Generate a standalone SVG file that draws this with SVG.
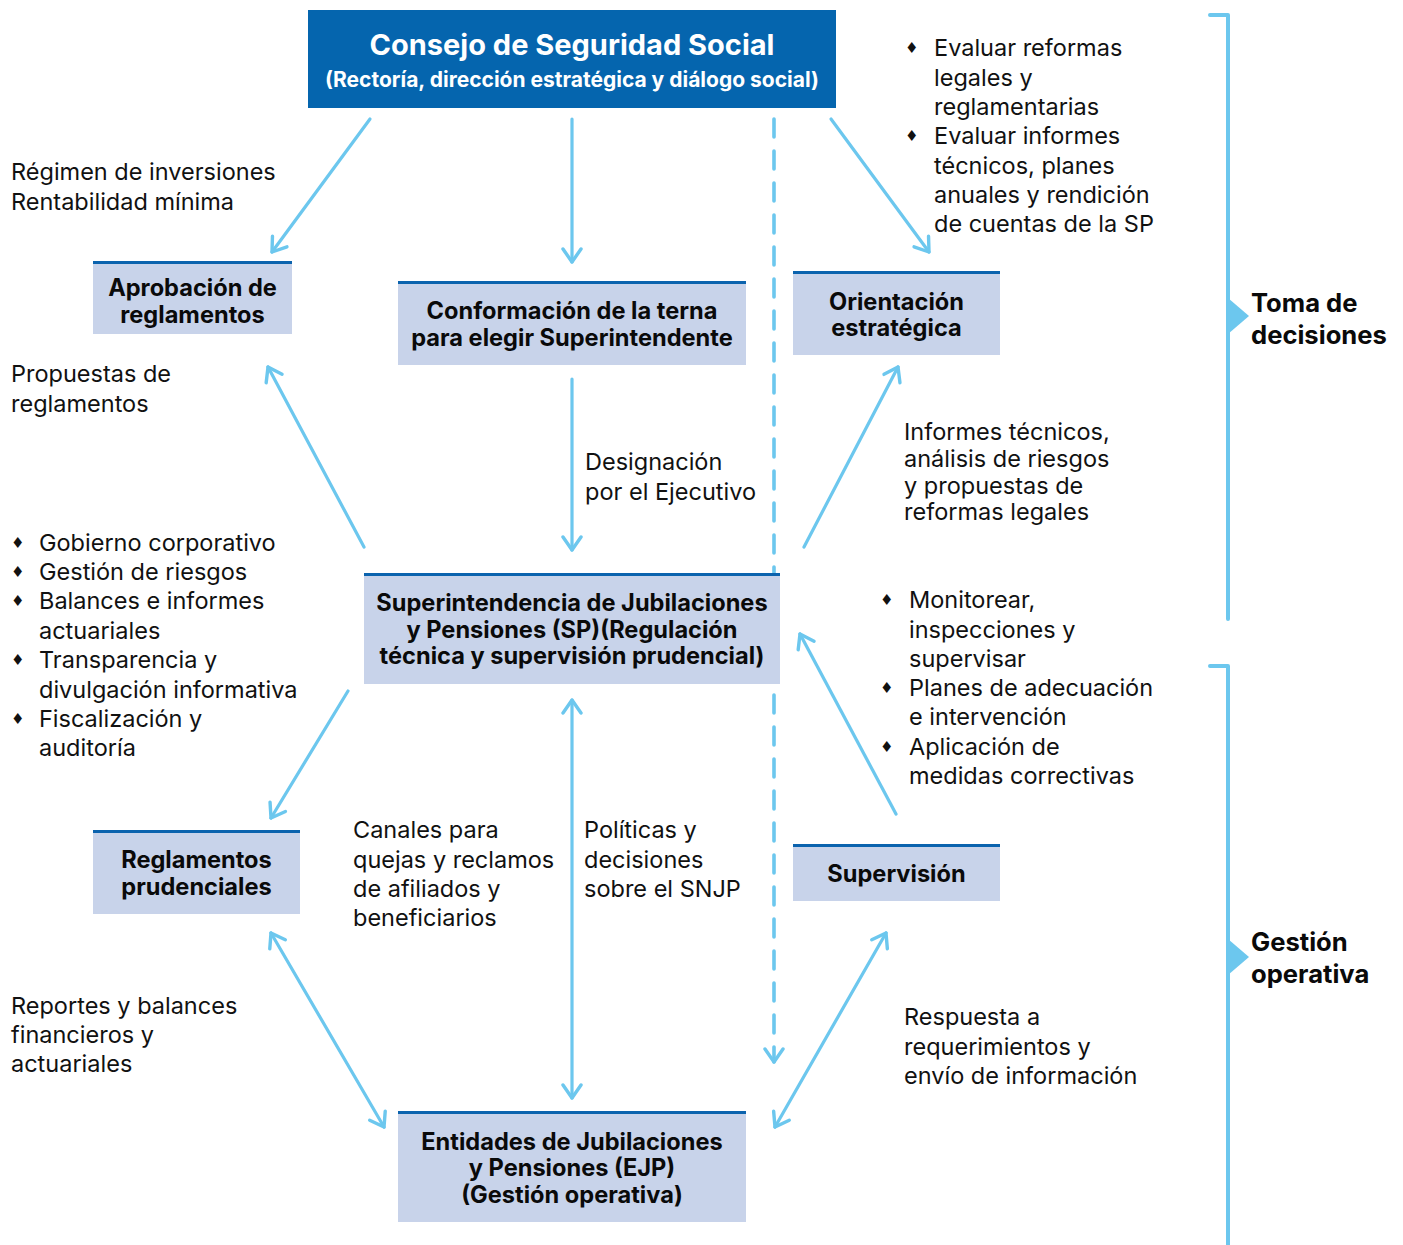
<svg xmlns="http://www.w3.org/2000/svg" width="1403" height="1245" viewBox="0 0 1403 1245">
  <defs>
    <style>
      .box { fill: #C8D3EA; }
      .topline { stroke: #0B63AE; stroke-width: 3; }
      .head { fill: #0565AE; }
      .bt { font-family: Inter, "Liberation Sans", sans-serif; font-weight: 700; font-size: 23.6px; fill: #0a0a0a; text-anchor: middle; }
      .wt { font-family: Inter, "Liberation Sans", sans-serif; font-weight: 700; fill: #ffffff; text-anchor: middle; }
      .t { font-family: Inter, "Liberation Sans", sans-serif; font-size: 23.5px; fill: #111111; }
      .bul { font-family: "DejaVu Sans", sans-serif; font-size: 15px; fill: #111111; }
      .lb { font-family: Inter, "Liberation Sans", sans-serif; font-weight: 700; font-size: 25.6px; fill: #0a0a0a; }
      .c { stroke: #6CC7EE; stroke-width: 3.2; fill: none; stroke-linecap: round; }
      .dash { stroke-dasharray: 18 14; stroke-width: 3.6; }
      .br { stroke: #6CC7EE; stroke-width: 4; fill: none; stroke-linecap: round; stroke-linejoin: round; }
    </style>
    <marker id="ah" viewBox="0 0 22 22" refX="18" refY="11" markerWidth="22" markerHeight="22" markerUnits="userSpaceOnUse" orient="auto-start-reverse">
      <polyline points="5,2 18,11 5,20" fill="none" stroke="#6CC7EE" stroke-width="3.4" stroke-linecap="round" stroke-linejoin="round"/>
    </marker>
  </defs>

  <rect width="1403" height="1245" fill="#ffffff"/>

  <!-- connectors -->
  <g id="connectors">
    <line class="c" x1="370" y1="119" x2="272" y2="252" marker-end="url(#ah)"/>
    <line class="c" x1="572" y1="119" x2="572" y2="262" marker-end="url(#ah)"/>
    <line class="c dash" x1="774" y1="119" x2="774" y2="1062" marker-end="url(#ah)"/>
    <line class="c" x1="831" y1="119" x2="929" y2="252" marker-end="url(#ah)"/>
    <line class="c" x1="572" y1="379" x2="572" y2="550" marker-end="url(#ah)"/>
    <line class="c" x1="364" y1="547" x2="268" y2="367" marker-end="url(#ah)"/>
    <line class="c" x1="804" y1="547" x2="898" y2="367" marker-end="url(#ah)"/>
    <line class="c" x1="348" y1="691" x2="271" y2="818" marker-end="url(#ah)"/>
    <line class="c" x1="896" y1="814" x2="800" y2="634" marker-end="url(#ah)"/>
    <line class="c" x1="572" y1="700" x2="572" y2="1098" marker-start="url(#ah)" marker-end="url(#ah)"/>
    <line class="c" x1="271" y1="933" x2="384" y2="1127" marker-start="url(#ah)" marker-end="url(#ah)"/>
    <line class="c" x1="886" y1="933" x2="775" y2="1127" marker-start="url(#ah)" marker-end="url(#ah)"/>
  </g>

  <!-- nodes -->
  <g id="consejo">
    <rect class="head" x="308" y="10" width="528" height="98"/>
    <text class="wt" x="572" y="55" font-size="29">Consejo de Seguridad Social</text>
    <text class="wt" x="572" y="87" font-size="21">(Rectoría, dirección estratégica y diálogo social)</text>
  </g>

  <g id="aprobacion">
    <rect class="box" x="93" y="261" width="199" height="73"/>
    <line class="topline" x1="93" y1="262.5" x2="292" y2="262.5"/>
    <text class="bt" x="192.5" y="296">Aprobación de</text>
    <text class="bt" x="192.5" y="323">reglamentos</text>
  </g>

  <g id="terna">
    <rect class="box" x="398" y="281" width="348" height="84"/>
    <line class="topline" x1="398" y1="282.5" x2="746" y2="282.5"/>
    <text class="bt" x="572" y="319">Conformación de la terna</text>
    <text class="bt" x="572" y="346">para elegir Superintendente</text>
  </g>

  <g id="orientacion">
    <rect class="box" x="793" y="271" width="207" height="84"/>
    <line class="topline" x1="793" y1="272.5" x2="1000" y2="272.5"/>
    <text class="bt" x="896.5" y="310">Orientación</text>
    <text class="bt" x="896.5" y="336">estratégica</text>
  </g>

  <g id="superintendencia">
    <rect class="box" x="364" y="573" width="416" height="111"/>
    <line class="topline" x1="364" y1="574.5" x2="780" y2="574.5"/>
    <text class="bt" x="572" y="611">Superintendencia de Jubilaciones</text>
    <text class="bt" x="572" y="638">y Pensiones (SP)(Regulación</text>
    <text class="bt" x="572" y="664">técnica y supervisión prudencial)</text>
  </g>

  <g id="reglamentos">
    <rect class="box" x="93" y="830" width="207" height="84"/>
    <line class="topline" x1="93" y1="831.5" x2="300" y2="831.5"/>
    <text class="bt" x="196.5" y="868">Reglamentos</text>
    <text class="bt" x="196.5" y="895">prudenciales</text>
  </g>

  <g id="supervision">
    <rect class="box" x="793" y="844" width="207" height="57"/>
    <line class="topline" x1="793" y1="845.5" x2="1000" y2="845.5"/>
    <text class="bt" x="896.5" y="882">Supervisión</text>
  </g>

  <g id="entidades">
    <rect class="box" x="398" y="1111" width="348" height="111"/>
    <line class="topline" x1="398" y1="1112.5" x2="746" y2="1112.5"/>
    <text class="bt" x="572" y="1150">Entidades de Jubilaciones</text>
    <text class="bt" x="572" y="1176">y Pensiones (EJP)</text>
    <text class="bt" x="572" y="1203">(Gestión operativa)</text>
  </g>

  <!-- flow labels -->
  <g id="labels">
    <text class="t" x="11" y="180">Régimen de inversiones</text>
    <text class="t" x="11" y="210">Rentabilidad mínima</text>

    <text class="t" x="11" y="382">Propuestas de</text>
    <text class="t" x="11" y="412">reglamentos</text>

    <text class="bul" x="11" y="548">♦</text>
    <text class="t" x="39" y="551">Gobierno corporativo</text>
    <text class="bul" x="11" y="577">♦</text>
    <text class="t" x="39" y="580">Gestión de riesgos</text>
    <text class="bul" x="11" y="606">♦</text>
    <text class="t" x="39" y="609">Balances e informes</text>
    <text class="t" x="39" y="639">actuariales</text>
    <text class="bul" x="11" y="665">♦</text>
    <text class="t" x="39" y="668">Transparencia y</text>
    <text class="t" x="39" y="698">divulgación informativa</text>
    <text class="bul" x="11" y="724">♦</text>
    <text class="t" x="39" y="727">Fiscalización y</text>
    <text class="t" x="39" y="756">auditoría</text>

    <text class="bul" x="905" y="53">♦</text>
    <text class="t" x="934" y="56">Evaluar reformas</text>
    <text class="t" x="934" y="86">legales y</text>
    <text class="t" x="934" y="115">reglamentarias</text>
    <text class="bul" x="905" y="141">♦</text>
    <text class="t" x="934" y="144">Evaluar informes</text>
    <text class="t" x="934" y="174">técnicos, planes</text>
    <text class="t" x="934" y="203">anuales y rendición</text>
    <text class="t" x="934" y="232">de cuentas de la SP</text>

    <text class="t" x="585" y="470">Designación</text>
    <text class="t" x="585" y="500">por el Ejecutivo</text>

    <text class="t" x="904" y="440">Informes técnicos,</text>
    <text class="t" x="904" y="467">análisis de riesgos</text>
    <text class="t" x="904" y="494">y propuestas de</text>
    <text class="t" x="904" y="520">reformas legales</text>

    <text class="bul" x="880" y="605">♦</text>
    <text class="t" x="909" y="608">Monitorear,</text>
    <text class="t" x="909" y="638">inspecciones y</text>
    <text class="t" x="909" y="667">supervisar</text>
    <text class="bul" x="880" y="693">♦</text>
    <text class="t" x="909" y="696">Planes de adecuación</text>
    <text class="t" x="909" y="725">e intervención</text>
    <text class="bul" x="880" y="752">♦</text>
    <text class="t" x="909" y="755">Aplicación de</text>
    <text class="t" x="909" y="784">medidas correctivas</text>

    <text class="t" x="353" y="838">Canales para</text>
    <text class="t" x="353" y="868">quejas y reclamos</text>
    <text class="t" x="353" y="897">de afiliados y</text>
    <text class="t" x="353" y="926">beneficiarios</text>

    <text class="t" x="584" y="838">Políticas y</text>
    <text class="t" x="584" y="868">decisiones</text>
    <text class="t" x="584" y="897">sobre el SNJP</text>

    <text class="t" x="11" y="1014">Reportes y balances</text>
    <text class="t" x="11" y="1043">financieros y</text>
    <text class="t" x="11" y="1072">actuariales</text>

    <text class="t" x="904" y="1025">Respuesta a</text>
    <text class="t" x="904" y="1055">requerimientos y</text>
    <text class="t" x="904" y="1084">envío de información</text>
  </g>

  <!-- phase brackets -->
  <g id="toma-decisiones">
    <polyline class="br" points="1210,15 1228,15 1228,619"/>
    <polygon points="1228,298 1249,316 1228,334" fill="#6CC7EE"/>
    <text class="lb" x="1251" y="312">Toma de</text>
    <text class="lb" x="1251" y="344">decisiones</text>
  </g>

  <g id="gestion-operativa">
    <polyline class="br" points="1210,666 1228,666 1228,1245"/>
    <polygon points="1228,939 1249,957 1228,975" fill="#6CC7EE"/>
    <text class="lb" x="1251" y="951">Gestión</text>
    <text class="lb" x="1251" y="983">operativa</text>
  </g>
</svg>
